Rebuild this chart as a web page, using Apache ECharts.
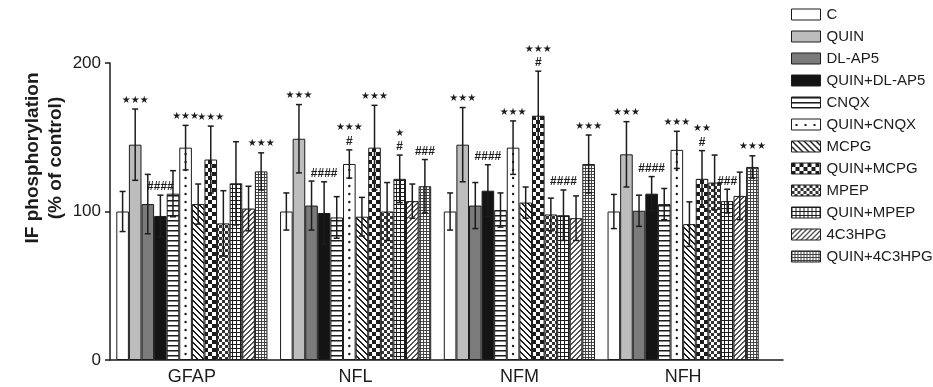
<!DOCTYPE html>
<html>
<head>
<meta charset="utf-8">
<script src="https://cdn.jsdelivr.net/npm/echarts@6/dist/echarts.min.js"></script>
<style>
  html, body { margin: 0; padding: 0; background: #fff; }
  #chart { width: 933px; height: 387px; }
</style>
</head>
<body>
<div id="chart"></div>
<script>
// Intermediate filament phosphorylation per treatment, % of control (mean ± SD)
const categories = ['GFAP', 'NFL', 'NFM', 'NFH'];
const treatments = ['C', 'QUIN', 'DL-AP5', 'QUIN+DL-AP5', 'CNQX', 'QUIN+CNQX',
  'MCPG', 'QUIN+MCPG', 'MPEP', 'QUIN+MPEP', '4C3HPG', 'QUIN+4C3HPG'];

const gfapMean = [100, 145, 105, 97, 112, 143, 105, 135, 92, 119, 102, 127];
const gfapSd   = [13.5, 24, 20, 14, 15.5, 15, 13.5, 22.5, 22, 28, 15, 12.5];
const nflMean  = [100, 149, 104, 99, 96, 132, 96.5, 143, 100, 122, 107, 117];
const nflSd    = [12.5, 23, 16.5, 21, 14, 9.5, 13, 28.5, 19.5, 16, 11.5, 18];
const nfmMean  = [100, 145, 104, 114, 101, 143, 106, 164.5, 98, 97.5, 95.5, 132];
const nfmSd    = [12.5, 25, 15.5, 17.5, 11.5, 18, 10.5, 30, 11, 17, 15, 19.5];
const nfhMean  = [100, 138.5, 100.5, 112, 105, 141.5, 91.5, 122, 119.5, 107, 110.5, 130];
const nfhSd    = [11.5, 22, 10.5, 11.5, 10.5, 12.5, 15, 19, 18.5, 8, 16, 7.5];

// significance vs control (★) and vs QUIN (#)
const gfapStars = ['', '★★★', '', '', '', '★★★', '', '★★★', '', '', '', '★★★'];
const gfapHash  = ['', '', '', '####', '', '', '', '', '', '', '', ''];
const nflStars  = ['', '★★★', '', '', '', '★★★', '', '★★★', '', '★', '', ''];
const nflHash   = ['', '', '', '####', '', '#', '', '', '', '#', '', '###'];
const nfmStars  = ['', '★★★', '', '', '', '★★★', '', '★★★', '', '', '', '★★★'];
const nfmHash   = ['', '', '', '####', '', '', '', '#', '', '####', '', ''];
const nfhStars  = ['', '★★★', '', '', '', '★★★', '', '★★', '', '', '', '★★★'];
const nfhHash   = ['', '', '', '####', '', '', '', '#', '', '###', '', ''];

const yMin = 0, yMax = 200, yStep = 100;

const means = [gfapMean, nflMean, nfmMean, nfhMean];
const sds = [gfapSd, nflSd, nfmSd, nfhSd];
const stars = [gfapStars, nflStars, nfmStars, nfhStars];
const hashes = [gfapHash, nflHash, nfmHash, nfhHash];

const INK = '#1c1c1c';
const FONT = '"Liberation Sans", Arial, Helvetica, sans-serif';
const CAT_GAP = 0.077;

// ---- fill patterns -------------------------------------------------------
function tile(w, h, draw) {
  const c = document.createElement('canvas');
  c.width = w; c.height = h;
  const g = c.getContext('2d');
  g.fillStyle = '#fff';
  g.fillRect(0, 0, w, h);
  g.fillStyle = INK;
  draw(g, w, h);
  return { image: c, repeat: 'repeat' };
}
const patHLines = tile(4, 5, (g) => { g.fillRect(0, 0, 4, 1); g.fillStyle = '#888'; g.fillRect(0, 1, 4, 1); });
const patDots = tile(9, 11, (g) => { g.fillRect(4, 5, 2, 2); });
const patBack = tile(6, 6, (g) => {
  for (let i = 0; i < 6; i++) { g.fillRect(i, i, 1, 1); g.fillRect((i + 1) % 6, i, 1, 1); }
});
const patFwd = tile(5, 5, (g) => {
  g.fillStyle = '#555';
  for (let i = 0; i < 5; i++) { g.fillRect(4 - i, i, 1, 1); g.fillRect((5 - i) % 5, i, 1, 1); }
});
const patChecker = tile(8, 8, (g) => { g.fillRect(0, 0, 4, 4); g.fillRect(4, 4, 4, 4); });
const patFineChecker = tile(6, 6, (g) => { g.fillStyle = '#333'; g.fillRect(0, 0, 3, 3); g.fillRect(3, 3, 3, 3); });
const patGrid = tile(4, 4, (g) => { g.fillRect(0, 0, 4, 1); g.fillRect(0, 0, 1, 4); });
const patFineGrid = tile(3, 3, (g) => { g.fillStyle = '#444'; g.fillRect(0, 0, 3, 1); g.fillRect(0, 0, 1, 3); });

const fills = ['#ffffff', '#bdbdbd', '#7b7b7b', '#141414', patHLines, '#ffffff',
  patBack, patChecker, patFineChecker, patGrid, patFwd, patFineGrid];
const legendFills = fills.slice();
legendFills[5] = patDots;

// ---- series ----------------------------------------------------------------
const barSeries = treatments.map((name, t) => ({
  name,
  type: 'bar',
  xAxisIndex: 0,
  yAxisIndex: 0,
  barGap: '0%',
  barCategoryGap: (CAT_GAP * 100) + '%',
  data: categories.map((c, g) => means[g][t]),
  itemStyle: { color: fills[t], borderColor: INK, borderWidth: 1 },
  emphasis: { disabled: true },
  animation: false
}));

const errRows = [];
categories.forEach((c, g) => {
  treatments.forEach((name, t) => {
    errRows.push({ value: [g, t, means[g][t], sds[g][t]], stars: stars[g][t], hash: hashes[g][t] });
  });
});

function renderErr(params, api) {
  const row = errRows[params.dataIndex];
  const g = api.value(0), t = api.value(1), m = api.value(2), s = api.value(3);
  const n = treatments.length;
  const band = api.size([1, 0])[0];
  const bw = band * (1 - CAT_GAP) / n;
  const cx = api.coord([g, m])[0] + (t - (n - 1) / 2) * bw;
  const yTop = api.coord([g, m + s])[1];
  const yBot = api.coord([g, m - s])[1];
  const yMean = api.coord([g, m])[1];
  const yZero = api.coord([g, 0])[1];
  const ls = { stroke: INK, lineWidth: 1.5 };
  const cap = 3;
  const children = [];

  // dotted fill for the QUIN+CNQX bar: one column of dots through the bar
  if (t === 5) {
    for (let y = yZero - 6; y > yMean + 3; y -= 8) {
      children.push({ type: 'circle', shape: { cx: cx, cy: y, r: 1.2 }, style: { fill: INK } });
    }
  }

  children.push(
    { type: 'line', shape: { x1: cx, y1: yTop, x2: cx, y2: yBot }, style: ls },
    { type: 'line', shape: { x1: cx - cap, y1: yTop, x2: cx + cap, y2: yTop }, style: ls },
    { type: 'line', shape: { x1: cx - cap, y1: yBot, x2: cx + cap, y2: yBot }, style: ls }
  );

  if (row.hash) {
    children.push({ type: 'text', x: cx, y: yTop - 8, style: {
      text: row.hash, font: 'bold 12px ' + FONT, fill: INK, align: 'center', verticalAlign: 'middle' } });
  }
  if (row.stars) {
    children.push({ type: 'text', x: cx, y: yTop - (row.hash ? 22 : 9), style: {
      text: row.stars, font: '10px "DejaVu Sans", sans-serif', fill: INK, align: 'center', verticalAlign: 'middle' } });
  }
  return { type: 'group', children };
}

const errSeries = {
  type: 'custom',
  name: 'sd',
  xAxisIndex: 0,
  yAxisIndex: 0,
  z: 5,
  clip: false,
  silent: true,
  animation: false,
  renderItem: renderErr,
  encode: { x: 0, y: 2 },
  data: errRows
};

const chart = echarts.init(document.getElementById('chart'), null, { renderer: 'canvas' });
chart.setOption({
  backgroundColor: '#fff',
  animation: false,
  textStyle: { fontFamily: FONT },
  grid: [
    { left: 110, right: 168, top: 63, bottom: 27 },
    { left: 110, right: 150, top: 63, bottom: 27 }
  ],
  xAxis: [
    {
      type: 'category', gridIndex: 0, data: categories,
      axisLine: { show: false }, axisTick: { show: false },
      axisLabel: { fontSize: 18, color: INK, margin: 8, fontFamily: FONT }
    },
    {
      type: 'value', gridIndex: 1, min: 0, max: 1,
      axisLine: { show: true, onZero: false, lineStyle: { color: INK, width: 1.5 } },
      axisTick: { show: false }, axisLabel: { show: false }, splitLine: { show: false }
    }
  ],
  yAxis: [
    {
      type: 'value', gridIndex: 0, min: yMin, max: yMax, interval: yStep,
      axisLine: { show: true, lineStyle: { color: INK, width: 1.5 } },
      axisTick: { show: true, length: 5, lineStyle: { color: INK, width: 1.5 } },
      axisLabel: { fontSize: 17, color: INK, margin: 9, fontFamily: FONT },
      splitLine: { show: false }
    },
    { type: 'value', gridIndex: 1, show: false, min: 0, max: 1 }
  ],
  legend: {
    orient: 'vertical',
    left: 786,
    top: 2,
    itemWidth: 29,
    itemHeight: 11,
    itemGap: 7,
    selectedMode: false,
    icon: 'rect',
    textStyle: { fontSize: 15, color: INK, fontFamily: FONT, padding: [0, 0, 0, 1] },
    data: treatments.map((name, t) => ({
      name,
      itemStyle: { color: legendFills[t], borderColor: INK, borderWidth: 1 }
    }))
  },
  graphic: [
    { type: 'text', x: 33, y: 158, rotation: Math.PI / 2,
      style: { text: 'IF phosphorylation', font: 'bold 19px ' + FONT, fill: INK, align: 'center', verticalAlign: 'middle' } },
    { type: 'text', x: 56, y: 158, rotation: Math.PI / 2,
      style: { text: '(% of control)', font: 'bold 19px ' + FONT, fill: INK, align: 'center', verticalAlign: 'middle' } }
  ],
  series: barSeries.concat([errSeries])
});
</script>
</body>
</html>
